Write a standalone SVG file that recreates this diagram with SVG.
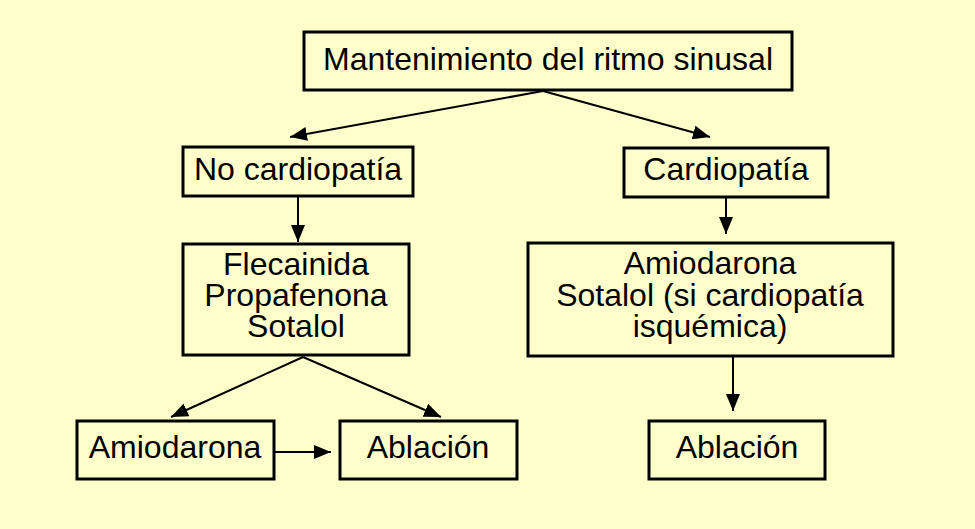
<svg xmlns="http://www.w3.org/2000/svg" width="975" height="529" viewBox="0 0 975 529">
<defs>
<style>
.box{fill:none;stroke:#000;stroke-width:3}
.t{font-family:"Liberation Sans",Arial,sans-serif;font-size:32px;fill:#000;text-anchor:middle}
.c{stroke:#000;stroke-width:2;fill:none;marker-end:url(#ah)}
</style>
<marker id="ah" markerUnits="userSpaceOnUse" markerWidth="18" markerHeight="14" refX="17" refY="7" orient="auto">
<path d="M0,0 L17,7 L0,14 z" fill="#000"/>
</marker>
</defs>
<rect width="975" height="529" fill="#FFFFCC"/>
<g id="connectors">
<line class="c" x1="543" y1="91" x2="290" y2="137"/>
<line class="c" x1="543" y1="91" x2="710" y2="137"/>
<line class="c" x1="298" y1="197" x2="298" y2="242"/>
<line class="c" x1="726" y1="197" x2="726" y2="234"/>
<line class="c" x1="303" y1="357" x2="171" y2="417"/>
<line class="c" x1="303" y1="357" x2="441" y2="417"/>
<line class="c" x1="274" y1="452" x2="331" y2="452"/>
<line class="c" x1="733" y1="357" x2="733" y2="411"/>
</g>
<g id="n_mantenimiento">
<rect class="box" x="304" y="32" width="488" height="58"/>
<text class="t" x="548" y="70">Mantenimiento del ritmo sinusal</text>
</g>
<g id="n_nocardiopatia">
<rect class="box" x="183" y="147" width="230" height="49"/>
<text class="t" x="298" y="180">No cardiopatía</text>
</g>
<g id="n_cardiopatia">
<rect class="box" x="624" y="148" width="204" height="49"/>
<text class="t" x="726" y="180">Cardiopatía</text>
</g>
<g id="n_flecainida">
<rect class="box" x="183" y="244" width="226" height="111"/>
<text class="t" x="296" y="275">Flecainida</text>
<text class="t" x="296" y="306">Propafenona</text>
<text class="t" x="296" y="337">Sotalol</text>
</g>
<g id="n_amiodarona_sotalol">
<rect class="box" x="528" y="243" width="365" height="113"/>
<text class="t" x="710" y="274">Amiodarona</text>
<text class="t" x="710" y="306">Sotalol (si cardiopatía</text>
<text class="t" x="710" y="337">isquémica)</text>
</g>
<g id="n_amiodarona">
<rect class="box" x="77" y="421" width="197" height="58"/>
<text class="t" x="175" y="458">Amiodarona</text>
</g>
<g id="n_ablacion1">
<rect class="box" x="340" y="421" width="177" height="58"/>
<text class="t" x="428" y="458">Ablación</text>
</g>
<g id="n_ablacion2">
<rect class="box" x="649" y="421" width="176" height="58"/>
<text class="t" x="737" y="458">Ablación</text>
</g>
</svg>
